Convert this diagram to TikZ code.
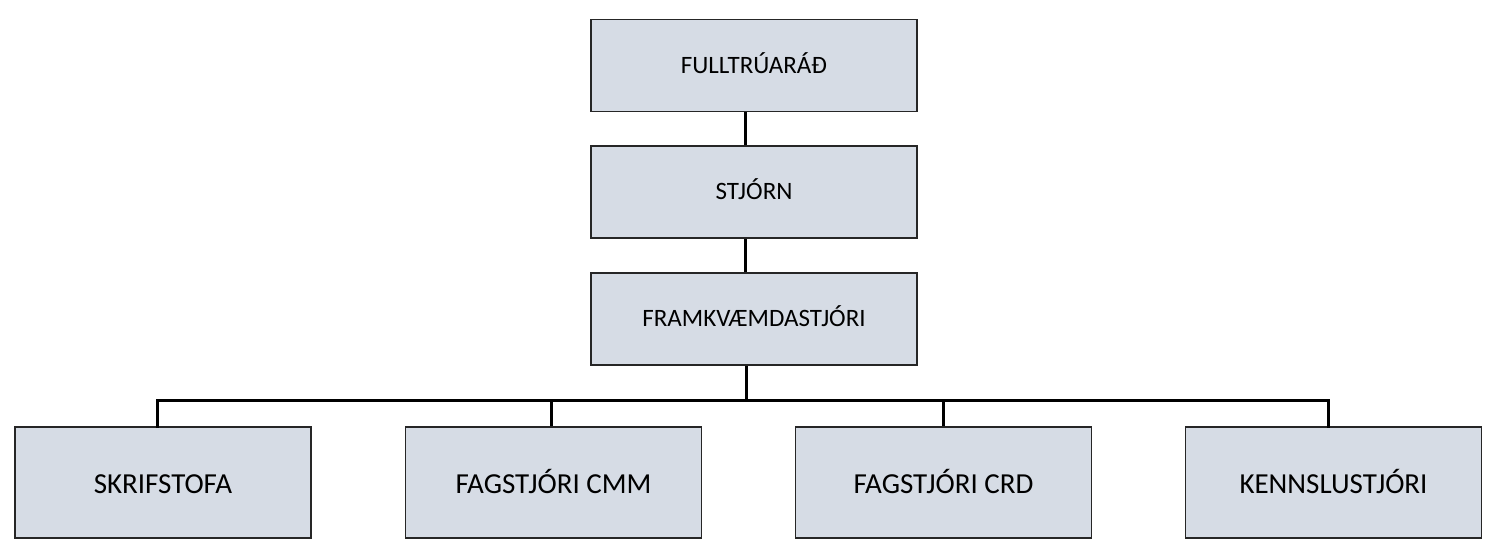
\documentclass[tikz,border=0pt]{standalone}
\usepackage{fontspec}
\setmainfont{Carlito}
\definecolor{boxfill}{HTML}{D6DCE5}
\definecolor{boxline}{HTML}{262626}
\tikzset{
	orgbox/.style={draw=boxline, line width=0.8pt, fill=boxfill, minimum width=163pt, minimum height=46pt, inner sep=0pt, text height=9pt, text depth=1pt, font=\fontsize{12.5}{14}\selectfont},
	lowbox/.style={orgbox, minimum width=148pt, minimum height=55.5pt, text height=12pt, text depth=0.5pt, font=\fontsize{14.5}{16}\selectfont},
	link/.style={line width=1.5pt}
}
\begin{document}
\begin{tikzpicture}[x=0.5pt,y=-0.5pt]
	\useasboundingbox (0,0) rectangle (1495,550);
	
	\node [orgbox] (fulltrui) at (754,65.5) {FULLTRÚARÁÐ};
	\node [orgbox] (stjorn) at (754,192) {STJÓRN};
	\node [orgbox] (framkv) at (754,319) {FRAMKVÆMDASTJÓRI};
	
	\node [lowbox] (skrif) at (163,482.5) {SKRIFSTOFA};
	\node [lowbox] (cmm) at (553.5,482.5) {FAGSTJÓRI CMM};
	\node [lowbox] (crd) at (943.5,482.5) {FAGSTJÓRI CRD};
	\node [lowbox] (kennsla) at (1333.5,482.5) {KENNSLUSTJÓRI};
	
	\draw [link] ([xshift=-4.5pt]fulltrui.south) -- ([xshift=-4.5pt]stjorn.north);
	\draw [link] ([xshift=-4.5pt]stjorn.south) -- ([xshift=-4.5pt]framkv.north);
	\coordinate (bus) at (746,401);
	\draw [link] ([xshift=-4pt]framkv.south) -- (bus);
	\draw [link, line cap=rect] ([xshift=-3pt]skrif.north) |- (bus) -| ([xshift=-2.5pt]kennsla.north);
	\foreach \n/\s in {cmm/-1.25pt, crd/-0.25pt}
		\draw [link] ([xshift=\s]\n.north) -- ([xshift=\s]\n.north |- bus);
\end{tikzpicture}
\end{document}
